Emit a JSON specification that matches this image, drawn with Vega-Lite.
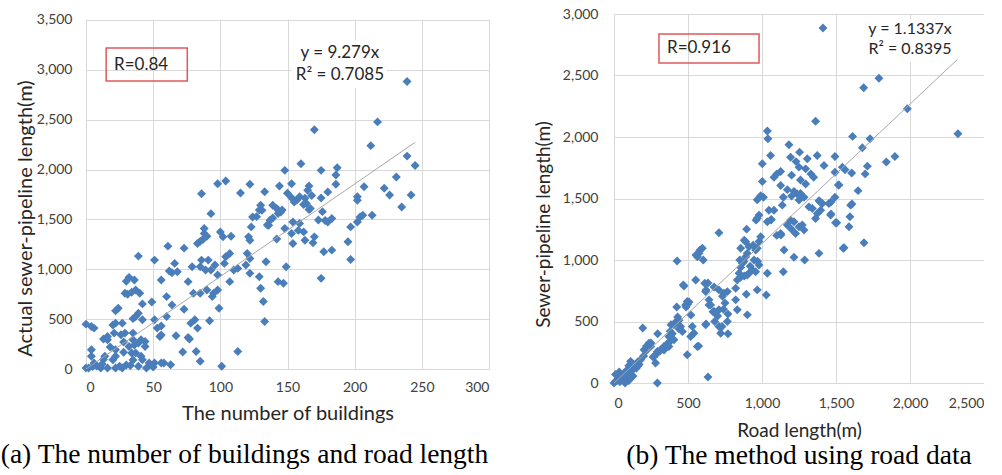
{
  "$schema": "https://vega.github.io/schema/vega-lite/v6.json",
  "padding": {"left": 0, "top": 7, "right": 0, "bottom": 2},
  "background": "white",
  "spacing": 125,
  "bounds": "flush",
  "config": {
    "view": {"stroke": null},
    "font": "Lato",
    "axis": {"grid": true, "gridColor": "#d9d9d9", "gridWidth": 1, "domain": false, "ticks": false, "labelFont": "Lato", "labelFontSize": 14, "labelColor": "#404040", "titleFont": "Lato", "titleFontWeight": "normal", "titleColor": "#262626"}
  },
  "datasets": {
    "leftPts": [
      {"x":239,"y":2884},{"x":217,"y":2478},{"x":170,"y":2400},{"x":212,"y":2240},{"x":239,"y":2135},{"x":245,"y":2040},{"x":160,"y":2058},{"x":187,"y":2018},{"x":148,"y":1992},{"x":175,"y":1992},{"x":186,"y":1945},{"x":231,"y":1925},{"x":98,"y":1858},{"x":104,"y":1885},{"x":122,"y":1852},{"x":144,"y":1835},{"x":153,"y":1858},{"x":166,"y":1835},{"x":186,"y":1852},{"x":207,"y":1828},{"x":222,"y":1812},{"x":165,"y":1792},{"x":180,"y":1775},{"x":86,"y":1758},{"x":115,"y":1765},{"x":133,"y":1778},{"x":150,"y":1762},{"x":226,"y":1745},{"x":242,"y":1745},{"x":159,"y":1728},{"x":163,"y":1712},{"x":153,"y":1718},{"x":175,"y":1715},{"x":202,"y":1728},{"x":157,"y":1695},{"x":162,"y":1650},{"x":166,"y":1600},{"x":168,"y":1740},
      {"x":235,"y":1625},{"x":202,"y":1692},{"x":130,"y":1642},{"x":139,"y":1642},{"x":142,"y":1609},{"x":155,"y":1675},{"x":164,"y":1659},{"x":167,"y":1609},{"x":129,"y":1595},{"x":127,"y":1528},{"x":143,"y":1560},{"x":146,"y":1595},{"x":139,"y":1514},{"x":176,"y":1578},{"x":93,"y":1558},{"x":124,"y":1525},{"x":131,"y":1592},{"x":137,"y":1492},{"x":145,"y":1575},{"x":204,"y":1525},{"x":206,"y":1542},{"x":213,"y":1542},{"x":173,"y":1495},{"x":178,"y":1490},{"x":183,"y":1509},{"x":180,"y":1475},{"x":154,"y":1475},{"x":159,"y":1459},{"x":136,"y":1442},{"x":123,"y":1425},{"x":148,"y":1409},{"x":135,"y":1444},{"x":197,"y":1425},{"x":202,"y":1475},
      {"x":88,"y":1409},{"x":88,"y":1359},{"x":87,"y":1299},{"x":83,"y":1259},{"x":85,"y":1280},{"x":90,"y":1330},{"x":100,"y":1375},{"x":102,"y":1325},{"x":108,"y":1332},{"x":121,"y":1325},{"x":122,"y":1292},{"x":142,"y":1304},{"x":153,"y":1359},{"x":162,"y":1375},{"x":158,"y":1390},{"x":154,"y":1259},{"x":163,"y":1292},{"x":169,"y":1265},{"x":170,"y":1325},{"x":195,"y":1276},{"x":61,"y":1232},{"x":73,"y":1212},{"x":39,"y":1132},{"x":51,"y":1092},{"x":86,"y":1092},{"x":91,"y":1092},{"x":120,"y":1159},{"x":107,"y":1159},{"x":104,"y":1126},{"x":122,"y":1109},{"x":177,"y":1176},{"x":183,"y":1192},{"x":197,"y":1099},{"x":66,"y":1059},{"x":96,"y":1042},{"x":103,"y":1059},{"x":134,"y":1076},{"x":119,"y":1042},{"x":79,"y":1026},{"x":85,"y":1026},{"x":149,"y":1026},{"x":113,"y":1009},{"x":64,"y":966},{"x":62,"y":983},{"x":68,"y":975},{"x":89,"y":992},{"x":93,"y":992},{"x":110,"y":992},{"x":122,"y":959},{"x":98,"y":942},{"x":129,"y":926},{"x":175,"y":909},
      {"x":32,"y":919},{"x":36,"y":892},{"x":30,"y":880},{"x":56,"y":892},{"x":76,"y":876},{"x":107,"y":876},{"x":143,"y":876},{"x":147,"y":859},{"x":130,"y":809},{"x":37,"y":792},{"x":90,"y":792},{"x":98,"y":792},{"x":29,"y":759},{"x":31,"y":749},{"x":34,"y":770},{"x":40,"y":759},{"x":80,"y":759},{"x":85,"y":759},{"x":95,"y":759},{"x":60,"y":726},{"x":94,"y":726},{"x":49,"y":672},{"x":132,"y":676},{"x":64,"y":643},{"x":42,"y":653},{"x":24,"y":609},{"x":22,"y":583},{"x":73,"y":600},{"x":99,"y":609},{"x":39,"y":560},{"x":37,"y":526},{"x":60,"y":526},{"x":42,"y":493},{"x":51,"y":493},{"x":81,"y":493},{"x":92,"y":483},{"x":133,"y":476},{"x":78,"y":460},{"x":35,"y":505},{"x":56,"y":431},
      {"x":0,"y":450},{"x":4,"y":426},{"x":6,"y":410},{"x":22,"y":460},{"x":27,"y":460},{"x":20,"y":441},{"x":53,"y":410},{"x":83,"y":410},{"x":16,"y":326},{"x":16,"y":293},{"x":13,"y":300},{"x":21,"y":360},{"x":26,"y":343},{"x":29,"y":360},{"x":35,"y":360},{"x":35,"y":293},{"x":41,"y":293},{"x":55,"y":326},{"x":56,"y":340},{"x":67,"y":333},{"x":77,"y":300},{"x":76,"y":316},{"x":39,"y":260},{"x":44,"y":276},{"x":44,"y":226},{"x":32,"y":226},{"x":28,"y":270},{"x":36,"y":240},{"x":4,"y":193},{"x":22,"y":193},{"x":28,"y":167},{"x":34,"y":160},{"x":37,"y":160},{"x":72,"y":170},{"x":82,"y":176},{"x":113,"y":176},{"x":4,"y":127},{"x":14,"y":127},{"x":22,"y":127},{"x":41,"y":127},{"x":20,"y":93},{"x":42,"y":93},{"x":13,"y":95},{"x":35,"y":90},{"x":6,"y":60},{"x":47,"y":60},{"x":51,"y":60},{"x":56,"y":60},{"x":58,"y":60},{"x":85,"y":77},{"x":63,"y":43},{"x":25,"y":27},{"x":39,"y":27},{"x":101,"y":27},{"x":0,"y":10},{"x":2,"y":10},{"x":11,"y":10},{"x":16,"y":10},{"x":22,"y":10},{"x":27,"y":10},{"x":45,"y":10},{"x":8,"y":30},{"x":12,"y":50},{"x":30,"y":40},{"x":18,"y":220},{"x":33,"y":35},{"x":50,"y":20},{"x":5,"y":25}
    ],
    "rightPts": [
      {"x":1412,"y":2886},{"x":1790,"y":2477},{"x":1687,"y":2400},{"x":1982,"y":2229},{"x":1362,"y":2128},{"x":2324,"y":2027},{"x":1036,"y":2049},{"x":1040,"y":1986},{"x":1182,"y":1937},{"x":1612,"y":2005},{"x":1730,"y":1986},{"x":1678,"y":1913},{"x":1254,"y":1877},{"x":1058,"y":1850},{"x":1373,"y":1850},{"x":1493,"y":1842},{"x":1193,"y":1836},{"x":1306,"y":1823},{"x":1898,"y":1842},{"x":1840,"y":1796},{"x":1002,"y":1782},{"x":1419,"y":1768},{"x":1712,"y":1763},{"x":1250,"y":1755},{"x":1295,"y":1741},{"x":1543,"y":1755},{"x":1561,"y":1733},{"x":1126,"y":1719},{"x":1493,"y":1714},{"x":1606,"y":1708},{"x":1697,"y":1700},{"x":1081,"y":1673},{"x":1349,"y":1673},{"x":1295,"y":1618},{"x":1516,"y":1610},{"x":1649,"y":1564},{"x":1002,"y":1638},{"x":1126,"y":1605},{"x":1171,"y":1572},{"x":1216,"y":1558},{"x":1238,"y":1537},{"x":1144,"y":1510},{"x":991,"y":1523},{"x":968,"y":1490},{"x":1284,"y":1510},{"x":1493,"y":1510},{"x":1385,"y":1482},{"x":1466,"y":1472},{"x":1392,"y":1474},{"x":1230,"y":1800},{"x":1330,"y":1700},{"x":1260,"y":1650},{"x":1200,"y":1690},{"x":1100,"y":1700},{"x":1010,"y":1510},{"x":1200,"y":1520},{"x":1260,"y":1540},
      {"x":1599,"y":1446},{"x":1594,"y":1351},{"x":1588,"y":1270},{"x":1689,"y":1141},{"x":1549,"y":1095},{"x":1452,"y":1460},{"x":1464,"y":1365},{"x":1497,"y":1303},{"x":1374,"y":1378},{"x":1362,"y":1338},{"x":1396,"y":1405},{"x":1407,"y":1460},{"x":1340,"y":1419},{"x":1317,"y":1432},{"x":1250,"y":1487},{"x":1385,"y":1054},{"x":1288,"y":1000},{"x":1216,"y":1022},{"x":1227,"y":1216},{"x":1272,"y":1284},{"x":1284,"y":1243},{"x":1250,"y":1270},{"x":1216,"y":1311},{"x":1193,"y":1324},{"x":1171,"y":1284},{"x":1149,"y":1081},{"x":1137,"y":1446},{"x":1126,"y":1216},{"x":1081,"y":1405},{"x":1047,"y":1405},{"x":1036,"y":1311},{"x":1063,"y":1330},{"x":968,"y":1340},{"x":980,"y":1365},{"x":960,"y":1324},{"x":968,"y":1095},{"x":991,"y":1189},{"x":980,"y":1150},{"x":957,"y":1081},{"x":946,"y":1000},{"x":980,"y":960},{"x":970,"y":990},{"x":890,"y":1027},{"x":900,"y":1054},{"x":890,"y":1149},{"x":912,"y":1108},{"x":896,"y":1251},{"x":856,"y":1095},{"x":878,"y":987},{"x":709,"y":1222},{"x":597,"y":1095},{"x":574,"y":1054},{"x":563,"y":1027},{"x":603,"y":1000},{"x":554,"y":1040},{"x":580,"y":1080},{"x":426,"y":992},{"x":1608,"y":1455},{"x":1520,"y":1610},{"x":1554,"y":1100},{"x":1466,"y":1374},{"x":1505,"y":1303},{"x":1200,"y":1250},{"x":1100,"y":1200},{"x":1060,"y":1325},{"x":940,"y":1120},{"x":880,"y":1160},{"x":850,"y":1000},{"x":920,"y":950},{"x":1128,"y":1203},
      {"x":1144,"y":905},{"x":1036,"y":892},{"x":1029,"y":716},{"x":912,"y":892},{"x":935,"y":919},{"x":957,"y":905},{"x":845,"y":892},{"x":856,"y":940},{"x":867,"y":973},{"x":833,"y":838},{"x":855,"y":860},{"x":880,"y":870},{"x":900,"y":878},{"x":968,"y":757},{"x":822,"y":770},{"x":822,"y":676},{"x":833,"y":595},{"x":894,"y":722},{"x":901,"y":554},{"x":766,"y":500},{"x":743,"y":730},{"x":709,"y":757},{"x":766,"y":743},{"x":709,"y":595},{"x":709,"y":460},{"x":676,"y":581},{"x":653,"y":635},{"x":619,"y":473},{"x":642,"y":676},{"x":619,"y":743},{"x":613,"y":811},{"x":552,"y":838},{"x":473,"y":789},{"x":622,"y":756},{"x":635,"y":813},{"x":676,"y":781},{"x":642,"y":634},{"x":487,"y":618},{"x":497,"y":640},{"x":507,"y":658},{"x":424,"y":618},{"x":669,"y":580},{"x":520,"y":553},{"x":495,"y":662},{"x":484,"y":635},{"x":468,"y":797},{"x":733,"y":705},{"x":700,"y":545},{"x":740,"y":600},{"x":770,"y":400},{"x":730,"y":460},{"x":750,"y":650},{"x":680,"y":500},{"x":770,"y":560},
      {"x":721,"y":405},{"x":563,"y":297},{"x":529,"y":460},{"x":540,"y":405},{"x":518,"y":378},{"x":495,"y":230},{"x":572,"y":300},{"x":622,"y":480},{"x":439,"y":440},{"x":450,"y":460},{"x":462,"y":419},{"x":405,"y":473},{"x":420,"y":500},{"x":430,"y":537},{"x":439,"y":510},{"x":371,"y":378},{"x":380,"y":420},{"x":385,"y":473},{"x":394,"y":400},{"x":338,"y":297},{"x":360,"y":320},{"x":380,"y":340},{"x":405,"y":351},{"x":315,"y":270},{"x":340,"y":290},{"x":371,"y":297},{"x":295,"y":400},{"x":281,"y":162},{"x":293,"y":0},{"x":270,"y":216},{"x":293,"y":257},{"x":248,"y":297},{"x":194,"y":447},{"x":203,"y":270},{"x":220,"y":300},{"x":236,"y":324},{"x":250,"y":325},{"x":264,"y":212},{"x":290,"y":240},{"x":310,"y":260},{"x":338,"y":268},{"x":160,"y":170},{"x":180,"y":189},{"x":200,"y":220},{"x":216,"y":260},{"x":135,"y":135},{"x":112,"y":176},{"x":90,"y":108},{"x":100,"y":140},{"x":124,"y":54},{"x":158,"y":135},{"x":95,"y":89},{"x":120,"y":100},{"x":150,"y":120},{"x":170,"y":150},{"x":11,"y":14},{"x":30,"y":40},{"x":50,"y":60},{"x":68,"y":81},{"x":0,"y":0},{"x":20,"y":20},{"x":40,"y":10},{"x":60,"y":30},{"x":80,"y":50},{"x":100,"y":20},{"x":128,"y":57},{"x":10,"y":70},{"x":35,"y":90},{"x":75,"y":0},{"x":635,"y":48}
    ],
    "leftTrend": [{"x":0,"y":0},{"x":245,"y":2273}],
    "rightTrend": [{"x":0,"y":0},{"x":2320,"y":2630}],
    "leftBox": [{"x":15,"y":3219,"x2":75.4,"y2":2888}],
    "rightBox": [{"x":304,"y":2837,"x2":980,"y2":2602}],
    "leftEqBg": [{"x":153,"y":3300,"x2":224,"y2":2818},{"x":-2,"y":3506,"x2":302,"y2":3560}],
    "rightEqBg": [{"x":1682,"y":2960,"x2":2331,"y2":2610}],
    "leftR": [{"x":20.9,"y":3049,"label":"R=0.84"}],
    "rightR": [{"x":358,"y":2724,"label":"R=0.916"}],
    "leftEq": [{"x":189,"y":3170,"label":"y = 9.279x"},{"x":189,"y":2949,"label":"R² = 0.7085"}],
    "rightEq": [{"x":2000,"y":2878,"label":"y = 1.1337x"},{"x":2000,"y":2715,"label":"R² = 0.8395"}]
  },
  "hconcat": [
    {
      "width": 403,
      "height": 355,
      "title": {"text": "(a) The number of buildings and road length", "orient": "bottom", "frame": "group", "anchor": "middle", "dx": -43, "offset": 18, "font": "Liberation Serif", "fontSize": 27.5, "fontWeight": "normal", "color": "#000000"},
      "encoding": {
        "x": {"field": "x", "type": "quantitative", "scale": {"domain": [0, 300], "nice": false}, "axis": {"values": [0, 50, 100, 150, 200, 250, 300], "title": "The number of buildings", "titleFontSize": 20, "labelPadding": 11, "titlePadding": 9}},
        "y": {"field": "y", "type": "quantitative", "scale": {"domain": [0, 3560], "nice": false}, "axis": {"values": [0, 500, 1000, 1500, 2000, 2500, 3000, 3500], "format": ",d", "title": "Actual sewer-pipeline length(m)", "titleFontSize": 20, "labelPadding": 14, "titlePadding": 1, "titleY": 204}}
      },
      "layer": [
        {"data": {"name": "leftEqBg"}, "mark": {"type": "rect", "fill": "white", "stroke": null}, "encoding": {"x2": {"field": "x2"}, "y2": {"field": "y2"}}},
        {"data": {"name": "leftPts"}, "mark": {"type": "point", "shape": "diamond", "filled": true, "size": 80, "color": "#4a7ebb", "opacity": 1}},
        {"data": {"name": "leftTrend"}, "mark": {"type": "line", "color": "#a6a6a6", "strokeWidth": 1}},
        {"data": {"name": "leftBox"}, "mark": {"type": "rect", "fill": "white", "fillOpacity": 0, "stroke": "#e0585c", "strokeWidth": 1.5}, "encoding": {"x2": {"field": "x2"}, "y2": {"field": "y2"}}},
        {"data": {"name": "leftR"}, "mark": {"type": "text", "align": "left", "baseline": "middle", "font": "Lato", "fontSize": 17, "color": "#262626"}, "encoding": {"text": {"field": "label"}}},
        {"data": {"name": "leftEq"}, "mark": {"type": "text", "align": "center", "baseline": "middle", "font": "Lato", "fontSize": 17, "color": "#262626"}, "encoding": {"text": {"field": "label"}}}
      ]
    },
    {
      "width": 370,
      "height": 369,
      "title": {"text": "(b) The method using road data", "orient": "bottom", "frame": "group", "anchor": "middle", "dx": 0, "offset": 2, "font": "Liberation Serif", "fontSize": 27.5, "fontWeight": "normal", "color": "#000000"},
      "encoding": {
        "x": {"field": "x", "type": "quantitative", "scale": {"domain": [0, 2500], "nice": false}, "axis": {"values": [0, 500, 1000, 1500, 2000, 2500], "format": ",d", "title": "Road length(m)", "titleFontSize": 19, "labelPadding": 13, "titlePadding": 11}},
        "y": {"field": "y", "type": "quantitative", "scale": {"domain": [0, 3000], "nice": false}, "axis": {"values": [0, 500, 1000, 1500, 2000, 2500, 3000], "format": ",d", "title": "Sewer-pipeline length(m)", "titleFontSize": 19, "labelPadding": 16, "titlePadding": 9, "titleY": 210}}
      },
      "layer": [
        {"data": {"name": "rightEqBg"}, "mark": {"type": "rect", "fill": "white", "stroke": null}, "encoding": {"x2": {"field": "x2"}, "y2": {"field": "y2"}}},
        {"data": {"name": "rightPts"}, "mark": {"type": "point", "shape": "diamond", "filled": true, "size": 80, "color": "#4a7ebb", "opacity": 1}},
        {"data": {"name": "rightTrend"}, "mark": {"type": "line", "color": "#a6a6a6", "strokeWidth": 1}},
        {"data": {"name": "rightBox"}, "mark": {"type": "rect", "fill": "white", "fillOpacity": 0, "stroke": "#e0585c", "strokeWidth": 1.5}, "encoding": {"x2": {"field": "x2"}, "y2": {"field": "y2"}}},
        {"data": {"name": "rightR"}, "mark": {"type": "text", "align": "left", "baseline": "middle", "font": "Lato", "fontSize": 17, "color": "#262626"}, "encoding": {"text": {"field": "label"}}},
        {"data": {"name": "rightEq"}, "mark": {"type": "text", "align": "center", "baseline": "middle", "font": "Lato", "fontSize": 16, "color": "#262626"}, "encoding": {"text": {"field": "label"}}}
      ]
    }
  ]
}
